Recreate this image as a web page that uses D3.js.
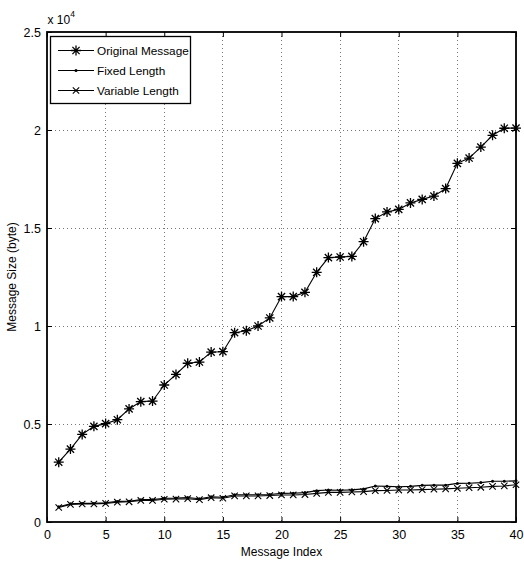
<!DOCTYPE html>
<html>
<head>
<meta charset="utf-8">
<script src="https://cdn.jsdelivr.net/npm/d3@7"></script>
<style>
  body { margin: 0; background: #fff; }
  svg { font-family: "Liberation Sans", Arial, sans-serif; }
</style>
</head>
<body>
<div id="chart"></div>
<script>
// message index 1..40
const messageIndex = d3.range(1, 41)

const originalMessage = [
  3050, 3720, 4470, 4880, 5020, 5220, 5770, 6140, 6170, 6990,
  7530, 8100, 8160, 8670, 8690, 9660, 9760, 10000, 10410, 11500,
  11500, 11720, 12740, 13490, 13520, 13550, 14300, 15480, 15820, 15950,
  16280, 16460, 16630, 17010, 18300, 18570, 19130, 19730, 20090, 20100
]

const fixedLength = [
  780, 930, 950, 950, 980, 1050, 1060, 1140, 1140, 1210,
  1220, 1250, 1190, 1290, 1260, 1390, 1390, 1390, 1400, 1460,
  1470, 1500, 1600, 1630, 1620, 1640, 1690, 1840, 1820, 1800,
  1820, 1870, 1880, 1880, 1970, 1980, 2010, 2080, 2080, 2100
]

const variableLength = [
  740, 900, 920, 920, 950, 1010, 1030, 1100, 1100, 1160,
  1170, 1190, 1140, 1240, 1210, 1330, 1330, 1330, 1350, 1380,
  1380, 1400, 1460, 1510, 1510, 1530, 1550, 1600, 1610, 1630,
  1630, 1650, 1670, 1690, 1720, 1750, 1770, 1820, 1840, 1900
]

const xTicks = [0, 5, 10, 15, 20, 25, 30, 35, 40]
const yTicks = [0, 5000, 10000, 15000, 20000, 25000]
const yTickLabels = ['0', '0.5', '1', '1.5', '2', '2.5']

const seriesNames = ['Original Message', 'Fixed Length', 'Variable Length']
const seriesMarkers = ['star', 'dot', 'cross']

const width = 524
const height = 564
const margin = { left: 47, right: 8, top: 32, bottom: 42 }

const svg = d3.select('#chart').append('svg')
  .attr('width', width)
  .attr('height', height)

const x = d3.scaleLinear().domain([0, 40]).range([margin.left, width - margin.right])
const y = d3.scaleLinear().domain([0, 25000]).range([height - margin.bottom, margin.top])

const x0 = x.range()[0], x1 = x.range()[1]
const y0 = y.range()[0], y1 = y.range()[1]

// grid
const grid = svg.append('g').attr('class', 'grid')
grid.selectAll('.gx')
  .data(xTicks.slice(1, -1))
  .enter().append('line')
  .attr('x1', d => x(d)).attr('x2', d => x(d))
  .attr('y1', y1).attr('y2', y0)
grid.selectAll('.gy')
  .data(yTicks.slice(1, -1))
  .enter().append('line')
  .attr('x1', x0).attr('x2', x1)
  .attr('y1', d => y(d)).attr('y2', d => y(d))
grid.selectAll('line')
  .style('stroke', '#777')
  .style('stroke-width', 1)
  .style('stroke-dasharray', '1,3')
  .attr('shape-rendering', 'crispEdges')

// axes (ticks inward, box on all sides)
const tickLen = 5
const xAxisB = d3.axisBottom(x).tickValues(xTicks).tickSizeInner(-tickLen).tickSizeOuter(0).tickPadding(8)
const xAxisT = d3.axisTop(x).tickValues(xTicks).tickSizeInner(-tickLen).tickSizeOuter(0).tickFormat('')
const yAxisL = d3.axisLeft(y).tickValues(yTicks).tickSizeInner(-tickLen).tickSizeOuter(0).tickPadding(6)
  .tickFormat((d, i) => yTickLabels[i])
const yAxisR = d3.axisRight(y).tickValues(yTicks).tickSizeInner(-tickLen).tickSizeOuter(0).tickFormat('')

const axes = svg.append('g').attr('class', 'axes')
axes.append('g').attr('transform', `translate(0,${y0})`).call(xAxisB)
axes.append('g').attr('transform', `translate(0,${y1})`).call(xAxisT)
axes.append('g').attr('transform', `translate(${x0},0)`).call(yAxisL)
axes.append('g').attr('transform', `translate(${x1},0)`).call(yAxisR)
axes.selectAll('.domain').remove()
axes.selectAll('.tick line').style('stroke', '#000').style('stroke-width', 1)
axes.selectAll('.tick text')
  .style('font-size', '12.5px')
  .style('fill', '#000')
  .attr('font-family', null)

axes.append('rect')
  .attr('x', x0).attr('y', y1)
  .attr('width', x1 - x0).attr('height', y0 - y1)
  .style('fill', 'none')
  .style('stroke', '#000')
  .style('stroke-width', 1.8)

// exponent label
const expo = svg.append('text')
  .attr('x', x0 + 0.5)
  .attr('y', y1 - 8)
  .style('font-size', '12px')
expo.append('tspan').text('x 10')
expo.append('tspan').attr('dy', -7).style('font-size', '8.5px').text('4')

// axis labels
svg.append('text')
  .attr('x', (x0 + x1) / 2)
  .attr('y', height - 8)
  .attr('text-anchor', 'middle')
  .style('font-size', '12px')
  .text('Message Index')

svg.append('text')
  .attr('transform', `translate(16,${(y0 + y1) / 2}) rotate(-90)`)
  .attr('text-anchor', 'middle')
  .style('font-size', '12px')
  .text('Message Size (byte)')

// marker drawing
const drawMarker = (g, type, cx, cy) => {
  if (type === 'star') {
    const r = 5
    const d = r * 0.72
    g.append('path')
      .attr('d', `M${cx - r},${cy}H${cx + r}M${cx},${cy - r}V${cy + r}` +
        `M${cx - d},${cy - d}L${cx + d},${cy + d}M${cx - d},${cy + d}L${cx + d},${cy - d}`)
      .style('stroke', '#000').style('stroke-width', 1.3).style('fill', 'none')
  } else if (type === 'dot') {
    g.append('circle').attr('cx', cx).attr('cy', cy).attr('r', 1.5).style('fill', '#000')
  } else {
    const d = 3.2
    g.append('path')
      .attr('d', `M${cx - d},${cy - d}L${cx + d},${cy + d}M${cx - d},${cy + d}L${cx + d},${cy - d}`)
      .style('stroke', '#000').style('stroke-width', 1.1).style('fill', 'none')
  }
}

const line = d3.line().x((d, i) => x(messageIndex[i])).y(d => y(d))
const allSeries = [originalMessage, fixedLength, variableLength]

const plot = svg.append('g').attr('class', 'plot')
allSeries.forEach((vals, k) => {
  plot.append('path')
    .datum(vals)
    .attr('d', line)
    .style('fill', 'none')
    .style('stroke', '#000')
    .style('stroke-width', 1.1)
  const mg = plot.append('g')
  vals.forEach((v, i) => drawMarker(mg, seriesMarkers[k], x(messageIndex[i]), y(v)))
})

// legend
const legend = svg.append('g').attr('class', 'legend')
legend.append('rect')
  .attr('x', 50.5).attr('y', 36.5)
  .attr('width', 140).attr('height', 67)
  .style('fill', '#fff')
  .style('stroke', '#000')
  .style('stroke-width', 1.3)

seriesNames.forEach((name, k) => {
  const ly = 50.5 + k * 20
  legend.append('line')
    .attr('x1', 58).attr('x2', 94)
    .attr('y1', ly).attr('y2', ly)
    .style('stroke', '#000').style('stroke-width', 1)
  drawMarker(legend, seriesMarkers[k], 76, ly)
  legend.append('text')
    .attr('x', 97)
    .attr('y', ly + 4.5)
    .style('font-size', '11.8px')
    .text(name)
})
</script>
</body>
</html>
